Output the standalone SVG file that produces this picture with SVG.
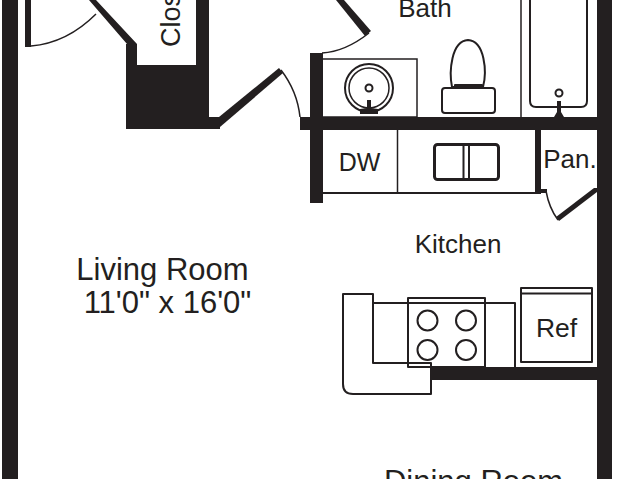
<svg xmlns="http://www.w3.org/2000/svg" width="640" height="479" viewBox="0 0 640 479">
<style>
.w{fill:#231f20}
.l{fill:none;stroke:#231f20;stroke-width:1.5}
.m{fill:none;stroke:#231f20;stroke-width:2;stroke-linejoin:round}
.h{fill:none;stroke:#231f20;stroke-width:3}
text{font-family:"Liberation Sans",Arial,sans-serif;fill:#231f20}
</style>
<rect width="640" height="479" fill="#fff"/>
<g id="walls">
<rect class="w" x="2" y="0" width="16" height="479"/>
<rect class="w" x="25" y="0" width="6" height="47"/>
<path class="w" d="M126 44H127L89 0H96L137 44V65H196V0H209V117H220V129H126Z"/>
<path class="w" d="M219 117L279 68L283 73L220 127Z"/>
<rect class="w" x="300" y="117" width="312" height="13"/>
<rect class="w" x="310" y="53" width="13" height="150"/>
<path class="w" d="M336 0H344L371 31L365 36Z"/>
<rect class="w" x="597" y="0" width="15" height="479"/>
<rect class="w" x="535" y="130" width="6" height="63"/>
<path class="w" d="M556 217L594 188H597V192L559 221Z"/>
<rect class="w" x="431" y="367" width="170" height="13"/>
<rect class="w" x="541" y="189" width="6" height="4"/>
</g>
<g id="doors">
<path class="l" d="M31 46C55 44 78 32 96 14"/>
<path class="l" d="M281 70C291 83 298 98 300 117"/>
<path class="l" d="M322 53C340 52 355 44 369 33"/>
<path class="l" d="M546 191C548 202 552 212 558 220"/>
</g>
<g id="bath">
<rect class="l" x="322" y="59" width="95" height="58"/>
<circle class="m" cx="369" cy="88" r="24"/>
<circle class="l" cx="369" cy="88" r="20"/>
<circle class="m" cx="369" cy="88" r="3.500"/>
<path class="w" d="M367 100H371V108L378 109V114H360V109L367 108Z"/>
<path class="m" d="M452 87C449 72 451 41 468 40C485 41 487 72 483 87Z"/>
<path class="m" d="M455 87H482V85H455Z"/>
<rect class="m" x="442" y="88" width="53" height="25" rx="3"/>
<path class="l" d="M521 0V117"/>
<path class="m" d="M530 0V101Q530 107 536 107H581Q587 107 587 101V0"/>
<circle class="m" cx="559" cy="93" r="3.500"/>
<path class="w" d="M557 101H561V112L564 117H554L557 112Z"/>
</g>
<g id="kitchen">
<path class="m" d="M323 193H541"/>
<path class="l" d="M397.500 130V193"/>
<rect class="h" x="434.500" y="144.500" width="64" height="35" rx="3"/>
<rect fill="#231f20" x="462.500" y="145" width="2" height="34"/>
<rect fill="#231f20" x="468" y="145" width="2" height="34"/>
<path class="m" d="M343 294H373V363H431V394H353Q343 394 343 384Z"/>
<path class="m" d="M373 303H515V367"/>
<rect class="m" x="408" y="298" width="77" height="69"/>
<circle class="m" cx="427.500" cy="320.500" r="10"/>
<circle class="m" cx="466" cy="320.500" r="10"/>
<circle class="m" cx="427.500" cy="350" r="10"/>
<circle class="m" cx="466" cy="350" r="10"/>
<rect class="m" x="521" y="288" width="71" height="74"/>
<path class="m" d="M521 293.500H592"/>
</g>
<g id="labels">
<text x="162.500" y="280" font-size="31" text-anchor="middle">Living Room</text>
<text x="167.500" y="313" font-size="31" text-anchor="middle">11'0" x 16'0"</text>
<text x="458" y="253" font-size="26" text-anchor="middle">Kitchen</text>
<text x="473.500" y="492" font-size="31" text-anchor="middle">Dining Room</text>
<text x="425" y="17" font-size="26" text-anchor="middle">Bath</text>
<text x="359.500" y="171" font-size="25" text-anchor="middle">DW</text>
<text x="570" y="168" font-size="26" text-anchor="middle">Pan.</text>
<text x="556.500" y="337" font-size="26.500" text-anchor="middle">Ref</text>
<text transform="translate(180 47) rotate(-90)" font-size="27">Clos</text>
</g>
</svg>
